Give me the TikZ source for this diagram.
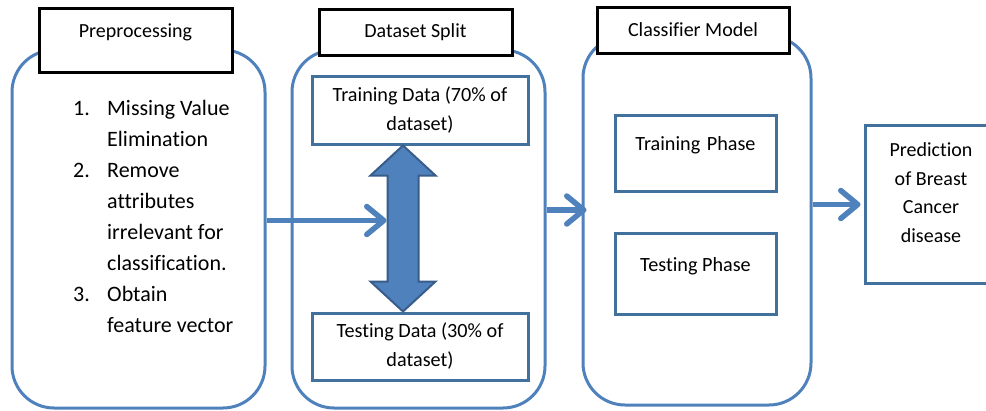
\documentclass[tikz,border=0pt]{standalone}
\usepackage{fontspec}
\setmainfont{Carlito}[Ligatures=NoCommon]
\usetikzlibrary{arrows.meta,calc}
\definecolor{contblue}{HTML}{4F81BD}
\definecolor{boxblue}{HTML}{41719C}
\definecolor{darkblue}{HTML}{385D8A}
\tikzset{
  cont/.style={draw=contblue, line width=3pt, rounded corners=42pt, fill=white},
  hdr/.style={draw=black, line width=3pt, fill=white, inner sep=0pt,
    font=\fontsize{20}{24}\selectfont},
  inbox/.style={draw=boxblue, line width=3pt, fill=white, inner sep=0pt,
    font=\fontsize{20.2}{29}\selectfont},
  flow/.style={draw=contblue, line width=5.5pt,
    -{Straight Barb[length=17pt,width=28pt,round]}},
  dblarrow/.style={draw=darkblue, line width=2pt, fill=contblue, line join=miter},
}
\begin{document}
\begin{tikzpicture}[x=1pt,y=-1pt]
\useasboundingbox (0,0) rectangle (986,410);

% three stage containers
\node[cont, minimum width=253pt, minimum height=358pt] (pre) at (138.5,229) {};
\node[cont, minimum width=253pt, minimum height=358pt] (split) at (418.5,229) {};
\node[cont, minimum width=228pt, minimum height=369pt] (cls) at (697,220.5) {};

% stage headers
\node[hdr, minimum width=193pt, text height=29pt, text depth=35pt] (preH) at (135.5,7) [anchor=north] {Preprocessing};
\node[hdr, minimum width=193pt, minimum height=46pt] (splitH) at (415.5,32) {Dataset Split};
\node[hdr, minimum width=192pt, minimum height=46pt] (clsH) at (693,30) {Classifier Model};

% preprocessing steps
\node[anchor=base west, inner sep=0pt, font=\fontsize{22}{31.1}\selectfont] (steps) at (73,115)
  {\begin{tabular}[t]{@{}l@{}l@{}}
   \makebox[34pt][l]{1.} & Missing Value\\
    & Elimination\\
   \makebox[34pt][l]{2.} & Remove\\
    & attributes\\
    & irrelevant for\\
    & classification.\\
   \makebox[34pt][l]{3.} & Obtain\\
    & feature vector
   \end{tabular}};

% dataset split
\node[inbox, minimum width=216pt, minimum height=68pt, align=center] (trainD) at (420,110)
  {Training Data (70\% of\\dataset)};
\node[inbox, minimum width=216pt, minimum height=67pt, align=center] (testD) at (420,346.5)
  {Testing Data (30\% of\\dataset)};

\coordinate (up) at ($(trainD.south)+(-17,0)$);
\coordinate (dn) at ($(testD.north)+(-17,0)$);
\draw[dblarrow] (up) -- ++(32.5,30) -- ++(-17,0) |- ($(dn)+(15.5,-30)$)
  -- ++(17,0) -- (dn) -- ++(-32.5,-30) -- ++(17,0) |- ($(up)+(-15.5,30)$)
  -- ++(-17,0) -- cycle;
\coordinate (shaft) at ($(up)+(-16.5,75)$);

% classifier phases
\node[inbox, minimum width=161pt, text height=35pt, text depth=41pt] (trainP) at (695.5,114) [anchor=north] {Training\kern2pt{} Phase};
\node[inbox, minimum width=161pt, text height=38pt, text depth=43pt] (testP) at (695.5,232) [anchor=north] {Testing Phase};

% prediction
\node[inbox, minimum width=132pt, text height=31pt, text depth=127pt] (pred) at (931,124) [anchor=north]
  {\fontsize{20}{28.7}\selectfont\begin{tabular}[t]{@{}c@{}}Prediction\\of Breast\\Cancer\\disease\end{tabular}};

% flow arrows
\coordinate (in2) at ($(cls.west)+(5,-10.5)$);
\coordinate (in3) at ($(pred.west)+(-3,0)$);
\draw[flow] (pre.east |- shaft) -- (shaft);
\draw[flow] (split.east |- in2) -- (in2);
\draw[flow] (cls.east |- in3) -- (in3);
\end{tikzpicture}
\end{document}
